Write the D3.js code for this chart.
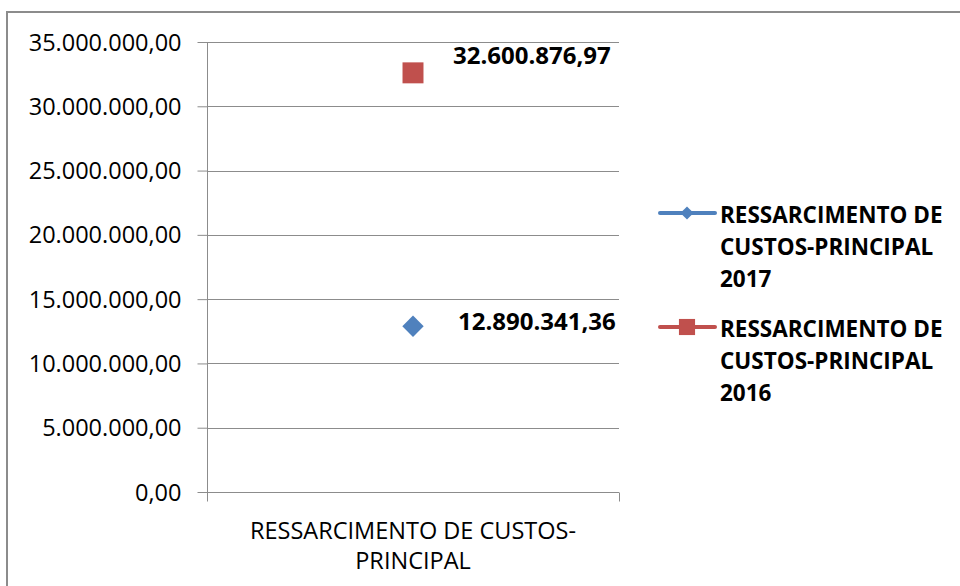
<!DOCTYPE html>
<html>
<head>
<meta charset="utf-8">
<script src="https://cdn.jsdelivr.net/npm/d3@7"></script>
<style>
  body { margin: 0; background: #fff; }
  text { font-family: "Open Sans", "Liberation Sans", sans-serif; fill: #000; }
</style>
</head>
<body>
<div class="chart"></div>
<script>
var w = 960;
var h = 586;

// data
var categories = ["RESSARCIMENTO DE CUSTOS-PRINCIPAL"];
var seriesNames = ["RESSARCIMENTO DE CUSTOS-PRINCIPAL 2017", "RESSARCIMENTO DE CUSTOS-PRINCIPAL 2016"];
var values2017 = [12890341.36];
var values2016 = [32600876.97];
var yTicks = [0, 5000000, 10000000, 15000000, 20000000, 25000000, 30000000, 35000000];

var colors = ["#4F81BD", "#C0504D"];
var labelDx = [45, 40];
var labelDy = [4, -9];

var margin = {left: 207, right: 341, top: 42, bottom: 94};

var fmt = function(v) {
    var parts = v.toFixed(2).split(".");
    return parts[0].replace(/\B(?=(\d{3})+(?!\d))/g, ".") + "," + parts[1];
};

var svg = d3.select(".chart")
            .append("svg")
            .attr("width", w)
            .attr("height", h);

// outer border
svg.append("rect")
    .attr("x", 7).attr("y", 12)
    .attr("width", 970).attr("height", 600)
    .attr("fill", "none")
    .attr("stroke", "#8c8c8c")
    .attr("stroke-width", 2);

var x = d3.scaleBand()
    .domain(categories)
    .range([margin.left, w - margin.right]);

var y = d3.scaleLinear()
    .domain([0, 35000000])
    .range([h - margin.bottom, margin.top]);

// gridlines
svg.append("g")
    .selectAll("line")
    .data(yTicks.filter(function(d) { return d > 0; }))
    .enter()
    .append("line")
    .attr("x1", margin.left)
    .attr("x2", w - margin.right)
    .attr("y1", function(d) { return Math.round(y(d)) + 0.5; })
    .attr("y2", function(d) { return Math.round(y(d)) + 0.5; })
    .attr("stroke", "#8c8c8c");

// y axis
var yAxis = svg.append("g")
    .attr("transform", "translate(" + (margin.left + 0.5) + ",0)")
    .call(d3.axisLeft(y).tickValues(yTicks).tickFormat(fmt).tickSize(10).tickPadding(16));
yAxis.selectAll("line, path").attr("stroke", "#8c8c8c");
yAxis.select(".domain").attr("d", "M0," + y(0) + "V" + margin.top);
yAxis.selectAll("text")
    .style("font-family", "'Open Sans', sans-serif")
    .style("font-size", "23.5px")
    .attr("dy", "0.34em")
    .attr("fill", "#000");

// x axis
var xAxis = svg.append("g")
    .attr("transform", "translate(0," + (Math.round(y(0)) + 0.5) + ")");
xAxis.append("line")
    .attr("x1", margin.left).attr("x2", w - margin.right)
    .attr("stroke", "#8c8c8c");
xAxis.selectAll(".tk")
    .data([margin.left, w - margin.right])
    .enter()
    .append("line")
    .attr("x1", function(d) { return d + 0.5; })
    .attr("x2", function(d) { return d + 0.5; })
    .attr("y1", 0).attr("y2", 9)
    .attr("stroke", "#8c8c8c");

categories.forEach(function(c) {
    var cx = x(c) + x.bandwidth() / 2;
    var t = xAxis.append("text")
        .attr("text-anchor", "middle")
        .style("font-size", "23.5px");
    t.append("tspan").attr("x", cx).attr("y", 46).text("RESSARCIMENTO DE CUSTOS-");
    t.append("tspan").attr("x", cx).attr("y", 76).text("PRINCIPAL");
});

// markers
var diamond = d3.symbol().type(d3.symbolDiamond2).size(290);
var square = d3.symbol().type(d3.symbolSquare).size(440);
var legDiamond = d3.symbol().type(d3.symbolDiamond2).size(110);
var legSquare = d3.symbol().type(d3.symbolSquare).size(260);

var series = [values2017, values2016];
var shapes = [diamond, square];
var legShapes = [legDiamond, legSquare];

series.forEach(function(vals, i) {
    svg.append("g")
        .selectAll("path")
        .data(vals)
        .enter()
        .append("path")
        .attr("d", shapes[i])
        .attr("transform", function(d, j) {
            return "translate(" + (x(categories[j]) + x.bandwidth() / 2) + "," + y(d) + ")";
        })
        .attr("fill", colors[i]);

    svg.append("g")
        .selectAll("text")
        .data(vals)
        .enter()
        .append("text")
        .attr("x", function(d, j) { return x(categories[j]) + x.bandwidth() / 2 + labelDx[i]; })
        .attr("y", function(d) { return y(d) + labelDy[i]; })
        .style("font-size", "24px")
        .style("font-weight", "bold")
        .text(fmt);
});

// legend
var legendY = [213, 327];
var legendLines = [
    ["RESSARCIMENTO DE", "CUSTOS-PRINCIPAL", "2017"],
    ["RESSARCIMENTO DE", "CUSTOS-PRINCIPAL", "2016"]
];
seriesNames.forEach(function(name, i) {
    var g = svg.append("g").attr("transform", "translate(0," + legendY[i] + ")");
    g.append("line")
        .attr("x1", 660).attr("x2", 715)
        .attr("stroke", colors[i])
        .attr("stroke-width", 4)
        .attr("stroke-linecap", "round");
    g.append("path")
        .attr("d", legShapes[i])
        .attr("transform", "translate(687,0)")
        .attr("fill", colors[i]);
    var t = g.append("text")
        .style("font-size", "22.5px")
        .style("font-weight", "bold");
    legendLines[i].forEach(function(s, k) {
        t.append("tspan").attr("x", 720).attr("y", 10 + k * 32).text(s);
    });
});
</script>
</body>
</html>
